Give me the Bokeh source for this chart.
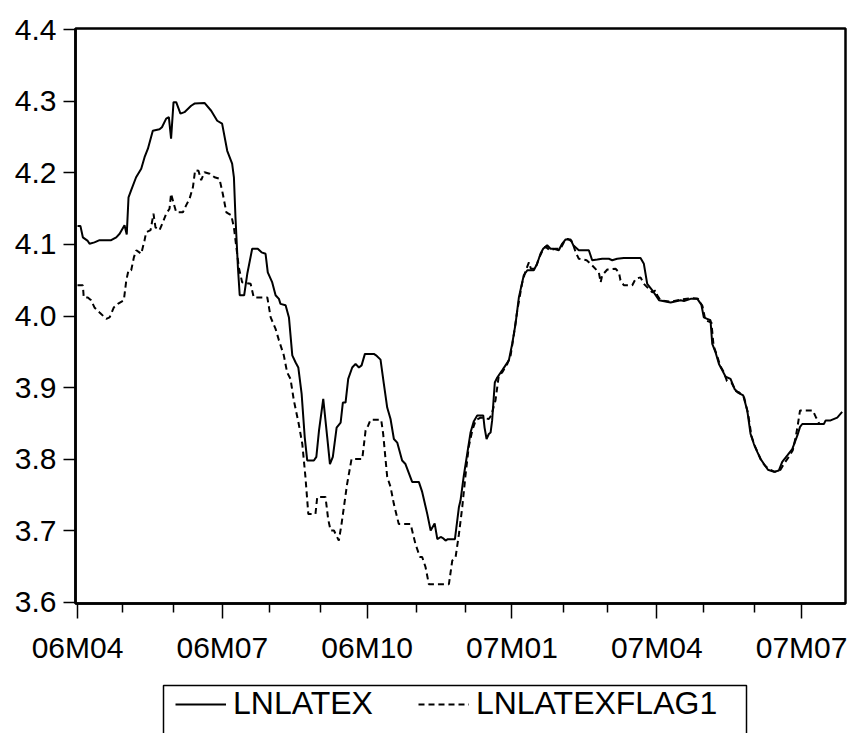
import numpy as np
from bokeh.plotting import figure
from bokeh.layouts import column
from bokeh.models import Range1d, FixedTicker, Legend, LegendItem
from bokeh.embed import file_html
from bokeh.resources import INLINE

# Daily (5-day week) observations starting 2006-04-03; x is the observation number.
START_DATE = "2006-04-03"
month_starts = ["2006-04-03", "2006-05-01", "2006-06-01", "2006-07-03", "2006-08-01",
                "2006-09-01", "2006-10-02", "2006-11-01", "2006-12-01", "2007-01-01",
                "2007-02-01", "2007-03-01", "2007-04-02", "2007-05-01", "2007-06-01",
                "2007-07-02"]
month_labels = ["06M04", "06M05", "06M06", "06M07", "06M08", "06M09", "06M10", "06M11",
                "06M12", "07M01", "07M02", "07M03", "07M04", "07M05", "07M06", "07M07"]

y_ticks = [3.6, 3.7, 3.8, 3.9, 4.0, 4.1, 4.2, 4.3, 4.4]
y_tick_labels = ["3.6", "3.7", "3.8", "3.9", "4.0", "4.1", "4.2", "4.3", "4.4"]

series_names = ["LNLATEX", "LNLATEXFLAG1"]

# LNLATEX (observation, value)
lnlatex_obs = [0, 1.3, 2.4, 4.6, 5.4, 7.6, 9.9, 15.1, 17.4, 18.9, 21.1, 22.1, 22.9, 24.1,
               26.3, 28.6, 30.1, 31.6, 33.8, 36.8, 37.9, 39.8, 41.0, 42.0, 43.1, 44.3, 46.2,
               48.0, 51.0, 52.5, 57.0, 60.0, 62.7, 64.9, 67.2, 69.4, 70.2, 70.9, 72.0, 72.8,
               74.8, 76.2, 78.4, 80.9, 82.6, 84.4, 85.4, 87.4, 88.9, 90.4, 91.1, 93.4, 94.9,
               96.4, 97.9, 99.1, 100.6, 102.0, 103.1, 106.1, 107.2, 108.4, 110.3, 112.1,
               113.3, 114.6, 116.3, 118.1, 119.1, 120.3, 121.5, 123.3, 124.8, 126.3, 127.5,
               129.0, 133.0, 134.0, 136.0, 137.5, 139.0, 140.5, 142.0, 143.5, 145.7, 147.2,
               150.2, 153.2, 154.7, 157.0, 158.5, 160.3, 161.5, 163.0, 164.2, 165.2, 166.2,
               169.4, 171.2, 171.9, 173.4, 174.9, 176.4, 177.9, 179.4, 182.1, 182.7, 183.6,
               184.6, 185.4, 186.1, 187.3, 188.4, 190.6, 192.1, 193.6, 195.1, 196.6, 198.1,
               200.3, 201.9, 204.8, 206.3, 207.8, 209.0, 210.8, 212.3, 213.8, 216.0, 217.5,
               219.1, 221.3, 222.5, 225.0, 229.5, 231.0, 233.3, 235.5, 238.5, 240.0, 242.2,
               245.2, 252.7, 254.2, 255.7, 258.0, 259.5, 261.0, 266.2, 270.7, 272.2, 275.2,
               278.2, 280.0, 281.1, 282.6, 284.1, 284.9, 286.4, 287.9, 289.4, 290.9, 293.1,
               294.9, 296.4, 298.8, 300.6, 302.1, 303.6, 305.1, 306.6, 308.1, 309.9, 312.6,
               314.8, 316.3, 318.6, 320.8, 323.1, 324.3, 325.3, 335.0, 335.8, 338.0, 341.0,
               343.2]
lnlatex = [4.126, 4.126, 4.110, 4.105, 4.101, 4.103, 4.106, 4.106, 4.110, 4.115, 4.127,
           4.114, 4.166, 4.176, 4.194, 4.206, 4.222, 4.234, 4.259, 4.261, 4.264, 4.276,
           4.278, 4.248, 4.299, 4.299, 4.283, 4.285, 4.294, 4.297, 4.298, 4.287, 4.273,
           4.269, 4.231, 4.213, 4.194, 4.138, 4.068, 4.029, 4.029, 4.059, 4.094, 4.094,
           4.089, 4.087, 4.061, 4.047, 4.029, 4.024, 4.017, 4.015, 3.998, 3.945, 3.935,
           3.928, 3.891, 3.830, 3.798, 3.798, 3.803, 3.840, 3.884, 3.830, 3.793, 3.803,
           3.844, 3.851, 3.879, 3.879, 3.912, 3.928, 3.933, 3.928, 3.931, 3.947, 3.947,
           3.945, 3.939, 3.905, 3.872, 3.856, 3.828, 3.823, 3.798, 3.793, 3.768, 3.768,
           3.754, 3.723, 3.700, 3.710, 3.688, 3.691, 3.689, 3.686, 3.688, 3.688, 3.733,
           3.742, 3.777, 3.807, 3.837, 3.853, 3.861, 3.861, 3.844, 3.828, 3.835, 3.837,
           3.854, 3.907, 3.914, 3.924, 3.931, 3.938, 3.961, 3.989, 4.026, 4.057, 4.064,
           4.064, 4.073, 4.087, 4.094, 4.099, 4.094, 4.094, 4.092, 4.101, 4.107, 4.107,
           4.099, 4.092, 4.092, 4.078, 4.079, 4.080, 4.080, 4.078, 4.080, 4.081, 4.081,
           4.073, 4.045, 4.036, 4.029, 4.022, 4.019, 4.022, 4.021, 4.024, 4.024, 4.016,
           3.998, 3.996, 3.994, 3.961, 3.949, 3.933, 3.924, 3.915, 3.912, 3.898, 3.893,
           3.889, 3.868, 3.835, 3.821, 3.810, 3.800, 3.793, 3.785, 3.782, 3.784, 3.796,
           3.805, 3.814, 3.833, 3.845, 3.849, 3.849, 3.854, 3.854, 3.858, 3.866]

# LNLATEXFLAG1 (observation, value)
flag1_obs = [0, 2.4, 2.8, 4.6, 6.1, 7.6, 9.9, 12.9, 14.4, 16.3, 18.1, 20.8, 21.9, 22.9,
             24.1, 25.3, 26.4, 28.6, 30.1, 30.8, 32.8, 34.1, 35.0, 36.8, 38.3, 39.8, 41.3,
             42.0, 43.2, 44.3, 47.3, 48.8, 50.3, 51.8, 52.8, 54.3, 55.5, 57.0, 59.3, 61.5,
             63.7, 65.2, 66.8, 69.0, 70.2, 72.4, 73.9, 77.7, 79.1, 85.2, 86.7, 88.9, 90.4,
             92.6, 94.1, 95.6, 97.1, 99.3, 100.9, 102.3, 103.6, 106.8, 107.6, 111.3, 112.5,
             113.6, 115.1, 117.3, 118.5, 121.0, 123.0, 127.8, 129.3, 130.5, 131.5, 136.3,
             137.2, 139.0, 140.5, 142.0, 144.2, 149.5, 150.2, 151.7, 153.7, 154.7, 156.2,
             157.7, 166.7, 168.2, 169.7, 171.2, 172.7, 174.2, 175.6, 177.2, 178.7, 180.9,
             184.6, 185.7, 187.6, 189.1, 190.6, 192.9, 194.4, 195.9, 197.4, 199.5, 201.0,
             202.6, 203.5, 205.5, 207.0, 208.5, 210.0, 212.0, 214.5, 216.8, 218.3, 220.0,
             222.0, 223.6, 225.0, 228.5, 230.3, 234.0, 234.8, 235.5, 237.8, 241.5, 243.0,
             243.7, 245.2, 249.0, 250.5, 252.7, 254.2, 256.4, 258.0, 259.5, 260.2, 261.7,
             266.2, 271.0, 275.5, 278.5, 280.5, 281.8, 284.5, 285.5, 287.0, 288.5, 290.0,
             291.5, 293.5, 295.5, 297.0, 299.2, 301.0, 302.5, 304.0, 305.5, 307.0, 308.5,
             310.3, 313.0, 315.5, 317.0, 319.0, 321.0, 322.3, 323.1, 324.3, 330.0, 331.5,
             333.0]
flag1 = [4.043, 4.043, 4.026, 4.026, 4.022, 4.012, 4.005, 3.996, 3.998, 4.012, 4.017,
         4.022, 4.050, 4.064, 4.064, 4.082, 4.092, 4.087, 4.106, 4.117, 4.120, 4.143,
         4.124, 4.120, 4.131, 4.143, 4.150, 4.171, 4.157, 4.145, 4.145, 4.155, 4.164,
         4.180, 4.204, 4.203, 4.190, 4.201, 4.199, 4.194, 4.192, 4.171, 4.145, 4.141,
         4.124, 4.068, 4.047, 4.045, 4.026, 4.026, 3.998, 3.982, 3.966, 3.945, 3.921,
         3.912, 3.882, 3.849, 3.821, 3.775, 3.723, 3.723, 3.747, 3.747, 3.716, 3.700,
         3.700, 3.686, 3.709, 3.765, 3.800, 3.800, 3.840, 3.847, 3.855, 3.855, 3.835,
         3.775, 3.761, 3.737, 3.709, 3.709, 3.700, 3.681, 3.663, 3.663, 3.649, 3.625,
         3.625, 3.658, 3.663, 3.695, 3.733, 3.779, 3.817, 3.840, 3.854, 3.858, 3.856,
         3.861, 3.882, 3.917, 3.921, 3.933, 3.945, 3.975, 4.008, 4.045, 4.062, 4.075,
         4.066, 4.066, 4.080, 4.090, 4.097, 4.092, 4.094, 4.094, 4.103, 4.108, 4.104,
         4.089, 4.080, 4.078, 4.073, 4.061, 4.047, 4.057, 4.065, 4.066, 4.061, 4.050,
         4.043, 4.043, 4.052, 4.054, 4.045, 4.038, 4.033, 4.036, 4.029, 4.022, 4.020,
         4.023, 4.025, 4.024, 4.014, 3.994, 3.991, 3.958, 3.945, 3.930, 3.922, 3.909,
         3.907, 3.895, 3.893, 3.886, 3.863, 3.832, 3.818, 3.808, 3.797, 3.791, 3.786,
         3.782, 3.785, 3.793, 3.802, 3.812, 3.830, 3.844, 3.868, 3.868, 3.858, 3.849]

# tick positions: business-day offset of each month's first observation
month_pos = [int(n) for n in np.busday_count(START_DATE, month_starts)]
major_pos = month_pos[::3]
minor_pos = [m for i, m in enumerate(month_pos) if i % 3]
x_overrides = {pos: month_labels[i] for i, pos in enumerate(month_pos) if i % 3 == 0}

FONT = "Liberation Sans"
W = 852
H_CHART = 675
H_KEY = 58
LEFT, RIGHT = 75, 7
SOLID = dict(line_color="black", line_width=2)
DASHED = dict(line_color="black", line_width=2, line_dash="6 4")

# ---- main chart ----
p = figure(width=W, height=H_CHART, output_backend="svg", toolbar_location=None,
           x_range=Range1d(-0.9, 344.7), y_range=Range1d(3.598, 4.402),
           min_border_left=LEFT, min_border_right=RIGHT, min_border_top=28,
           min_border_bottom=72, background_fill_color="white",
           border_fill_color="white")
p.xgrid.visible = False
p.ygrid.visible = False
p.outline_line_color = "black"
p.outline_line_width = 2.5

p.line(lnlatex_obs, lnlatex, **SOLID)
p.line(flag1_obs, flag1, **DASHED)

xa = p.xaxis[0]
xa.ticker = FixedTicker(ticks=major_pos, minor_ticks=minor_pos)
xa.major_label_overrides = x_overrides
xa.major_tick_out = 15
xa.major_tick_in = 0
xa.minor_tick_out = 9
xa.minor_tick_in = 0
xa.major_tick_line_width = 1.5
xa.minor_tick_line_width = 1.5
xa.axis_line_width = 2.5
xa.major_label_standoff = 12
xa.major_label_text_font = FONT
xa.major_label_text_font_size = "30px"
xa.major_label_text_color = "black"

ya = p.yaxis[0]
ya.ticker = FixedTicker(ticks=y_ticks)
ya.major_label_overrides = {t: s for t, s in zip(y_ticks, y_tick_labels)}
ya.major_tick_out = 12
ya.major_tick_in = 0
ya.minor_tick_line_color = None
ya.major_tick_line_width = 1.5
ya.axis_line_width = 2.5
ya.major_label_standoff = 7
ya.major_label_text_font = FONT
ya.major_label_text_font_size = "30px"
ya.major_label_text_color = "black"

# ---- key strip below the chart: x in page pixels, y in pixels below its top ----
k = figure(width=W, height=H_KEY, output_backend="svg", toolbar_location=None,
           x_range=Range1d(LEFT, W - RIGHT), y_range=Range1d(-H_KEY, 0),
           x_axis_location=None, y_axis_location=None,
           min_border_left=LEFT, min_border_right=RIGHT,
           min_border_top=0, min_border_bottom=0,
           background_fill_color="white", border_fill_color="white")
k.xgrid.visible = False
k.ygrid.visible = False
k.outline_line_color = None

# key frame, running past the bottom edge of the page
k.quad(left=[163], right=[746], top=[-10], bottom=[-H_KEY - 30],
       fill_color=None, line_color="black", line_width=1.5)
# same series, out of this strip's y range: only their key samples show
kr1 = k.line(lnlatex_obs, lnlatex, **SOLID)
kr2 = k.line(flag1_obs, flag1, **DASHED)

legend = Legend(items=[LegendItem(label=series_names[0], renderers=[kr1]),
                       LegendItem(label=series_names[1], renderers=[kr2])],
                orientation="horizontal", location=(177 - LEFT - 2, 11),
                label_text_font=FONT, label_text_font_size="32px",
                label_text_color="black", glyph_width=51, glyph_height=20,
                label_standoff=7, spacing=45, padding=2, margin=0,
                border_line_color=None, background_fill_alpha=0.0)
k.add_layout(legend, "center")

layout = column(p, k, spacing=0)
open("out.html", "w").write(file_html(layout, INLINE))
